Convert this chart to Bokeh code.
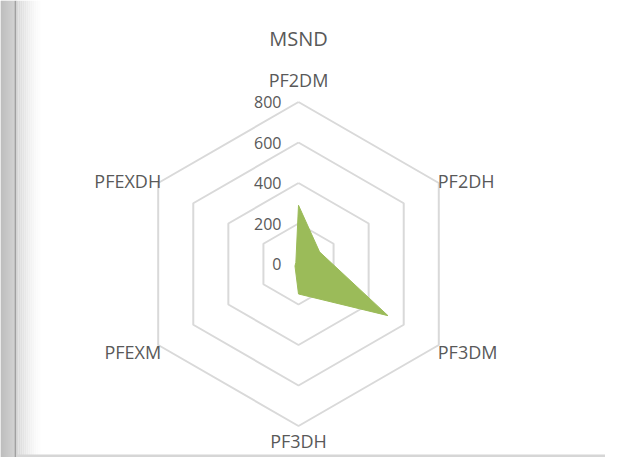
import math
from bokeh.plotting import figure
from bokeh.models import Range1d, ColumnDataSource, BoxAnnotation
from bokeh.core.properties import value
from bokeh.embed import file_html
from bokeh.resources import INLINE

# ---- data ----
title_text = "MSND"
categories = ["PF2DM", "PF2DH", "PF3DM", "PF3DH", "PFEXM", "PFEXDH"]
values = [290, 120, 510, 148, 20, 15]
ring_ticks = [0, 200, 400, 600, 800]
ring_labels = ["0", "200", "400", "600", "800"]
max_val = 800

# ---- layout ----
W, H = 605, 457
cx, cy = 298, 263.5          # centre in canvas pixels
R_px = 162                    # pixels for max_val
k = max_val / R_px            # data units per pixel

p = figure(width=W, height=H, output_backend="svg", toolbar_location=None,
           x_range=Range1d(-cx * k, (W - cx) * k),
           y_range=Range1d(-(H - cy) * k, cy * k),
           min_border=0, outline_line_color=None)
p.axis.visible = False
p.grid.visible = False
p.background_fill_color = "white"
p.border_fill_color = "white"

n = len(categories)
angles = [math.pi / 2 - 2 * math.pi * i / n for i in range(n)]

# frame shadow decoration on left / top
shades = ["#a8a8a8", "#aaaaaa", "#acacac", "#aeaeae", "#b0b0b0", "#b2b2b2", "#b4b4b4",
          "#b6b6b6", "#b8b8b8", "#bababa", "#bcbcbc", "#bebebe", "#c0c0c0", "#c2c2c2"]
for i, c in enumerate(shades):
    p.add_layout(BoxAnnotation(left=i, right=i + 1, left_units="screen", right_units="screen",
                               fill_color=c, fill_alpha=1, line_color=None, level="underlay"))
p.add_layout(BoxAnnotation(left=14, right=16, left_units="screen", right_units="screen",
                           fill_color="#a0a0a0", fill_alpha=1, line_color=None, level="underlay"))
grad = ["#d8d8d8", "#dcdcdc", "#e0e0e0", "#e4e4e4", "#e8e8e8", "#ececec", "#f0f0f0",
        "#f3f3f3", "#f6f6f6", "#f9f9f9", "#fbfbfb", "#fdfdfd"]
for i, c in enumerate(grad):
    p.add_layout(BoxAnnotation(left=16 + 2 * i, right=16 + 2 * (i + 1),
                               left_units="screen", right_units="screen",
                               fill_color=c, fill_alpha=1, line_color=None, level="underlay"))
p.add_layout(BoxAnnotation(left=16, top=0, bottom=3, left_units="screen",
                           top_units="screen", bottom_units="screen",
                           fill_color="#d6d6d6", fill_alpha=1, line_color=None, level="underlay"))

# rings
for t in ring_ticks[1:]:
    xs = [t * math.cos(a) for a in angles] + [t * math.cos(angles[0])]
    ys = [t * math.sin(a) for a in angles] + [t * math.sin(angles[0])]
    p.line(xs, ys, line_color="#d9d9d9", line_width=2)

# data polygon
dx = [v * math.cos(a) for v, a in zip(values, angles)]
dy = [v * math.sin(a) for v, a in zip(values, angles)]
p.patch(dx, dy, fill_color="#9bbb59", line_color="#9bbb59", line_width=1)

font = value("Open Sans")

# ring tick labels
p.text(x=[0] * len(ring_ticks), y=ring_ticks, text=ring_labels,
       text_font=font, text_font_size="16px", text_color="#595959",
       text_align="right", text_baseline="middle", x_offset=-17)

# category labels
lx = [max_val * math.cos(a) for a in angles]
ly = [max_val * math.sin(a) for a in angles]
aligns = ["center", "left", "left", "center", "right", "right"]
xoff = [0, -1, -1, 0, 3, 3]
yoff = [-22, -2, 7, 15, 7, -2]
src = ColumnDataSource(dict(x=lx, y=ly, text=categories, align=aligns, xo=xoff, yo=yoff))
p.text(x="x", y="y", text="text", source=src, text_align="align", x_offset="xo", y_offset="yo",
       text_baseline="middle", text_font=font, text_font_size="18px", text_color="#595959")

# title
p.text(x=[0], y=[0], text=[title_text], text_font=font, text_font_size="20px",
       text_color="#595959", text_align="center", text_baseline="middle", y_offset=-226)

open("out.html", "w").write(file_html(p, INLINE))
